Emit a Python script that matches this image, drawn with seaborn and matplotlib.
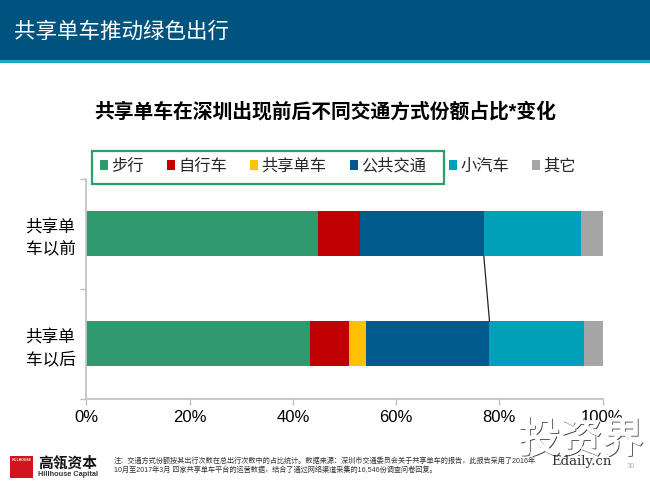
import numpy as np
import matplotlib
matplotlib.use("Agg")
import matplotlib.pyplot as plt
import matplotlib.patches as mpatches
import matplotlib.patheffects as pe
import seaborn as sns

categories = ["共享单\n车以前", "共享单\n车以后"]
modes = ["步行", "自行车", "共享单车", "公共交通", "小汽车", "其它"]
walk = [44.9, 43.4]
bike = [8.1, 7.5]
shared = [0.0, 3.2]
transit = [24.0, 24.0]
car = [18.9, 18.4]
other = [4.1, 3.5]
colors = ["#2f9b6c", "#c00000", "#ffc000", "#005b8c", "#00a0b8", "#a6a6a6"]
xticks = [0, 20, 40, 60, 80, 100]

sns.set_theme(style="white")
FONT = ["Liberation Sans", "Noto Sans CJK SC"]
plt.rcParams["font.family"] = FONT

W, H = 650, 487
fig = plt.figure(figsize=(W / 100, H / 100), dpi=100, facecolor="white")


def fx(x):
    return x / W


def fy(y):
    return 1 - y / H


def rect(x0, y0, x1, y1, **kw):
    fig.add_artist(mpatches.Rectangle((fx(x0), fy(y1)), (x1 - x0) / W, (y1 - y0) / H,
                                      transform=fig.transFigure, **kw))


# header band
rect(0, 0, W, 60, facecolor="#00537f", edgecolor="none")
rect(0, 60, W, 63, facecolor="#1aa9c9", edgecolor="none")
fig.text(fx(14), fy(32), "共享单车推动绿色出行", color="white", fontsize=15.5, va="center", ha="left")
fig.text(fx(325), fy(112), "共享单车在深圳出现前后不同交通方式份额占比*变化", color="black",
         fontsize=14.25, fontweight="bold", va="center", ha="center")

# plot area
ax = fig.add_axes([fx(86.5), fy(399), (602.5 - 86.5) / W, (399 - 178.5) / H])
series = np.array([walk, bike, shared, transit, car, other])
cum = series.cumsum(axis=0)
# stacked bars: painted from the longest total down to the shortest
for i in range(len(modes) - 1, -1, -1):
    sns.barplot(x=cum[i], y=categories, color=colors[i], width=0.41, saturation=1,
                orient="h", ax=ax, label=modes[i], linewidth=0)

ax.set_xlim(0, 100)
ax.set_ylim(1.5, -0.5)
ax.set_xlabel("")
ax.set_ylabel("")
ax.set_xticks(xticks)
ax.set_xticklabels([f"{v}%" for v in xticks], fontsize=12, color="black")
ax.set_yticks([0, 1])
ax.set_yticklabels(categories, fontsize=12, color="black", linespacing=1.5)
ax.set_yticks([-0.5, 0.5, 1.5], minor=True)
ax.tick_params(axis="y", which="major", length=0, pad=8)
ax.tick_params(axis="y", which="minor", length=4, width=1, color="#bfbfbf", left=True)
ax.tick_params(axis="x", which="major", length=4, width=1, color="#bfbfbf", bottom=True, pad=4)
for s in ["top", "right"]:
    ax.spines[s].set_visible(False)
for s in ["left", "bottom"]:
    ax.spines[s].set_color("#c4c4c4")
    ax.spines[s].set_linewidth(1.3)

# series connector
ax.plot([cum[3][0], cum[3][1]], [0.205, 0.795], color="#222222", lw=0.9, zorder=5)

# legend
handles, labels = ax.get_legend_handles_labels()
if ax.get_legend() is not None:
    ax.get_legend().remove()
leg = fig.legend(handles[::-1], labels[::-1], ncol=6, frameon=False, fontsize=11.7,
                 loc="center left", bbox_to_anchor=(fx(100), fy(166)), borderaxespad=0, borderpad=0,
                 columnspacing=1.42, handletextpad=0.2, handlelength=0.5, handleheight=0.5)
rect(92, 151.5, 444, 184.5, facecolor="none", edgecolor="#27a067", linewidth=1.6)

# footer
rect(10, 456, 33, 478, facecolor="#d2141e", edgecolor="none")
fig.text(fx(21.5), fy(460), "HILLHOUSE", color="white", fontsize=2.4, ha="center", va="center", fontweight="bold")
fig.text(fx(38), fy(464), "高瓴资本", color="#111111", fontsize=10.6, fontweight="bold", ha="left", va="center")
fig.text(fx(38), fy(475), "Hillhouse Capital", color="#333333", fontsize=5.3, fontweight="bold", ha="left", va="center")
fig.text(fx(114), fy(461.5), "注：交通方式份额按其出行次数在总出行次数中的占比统计。数据来源：深圳市交通委员会关于共享单车的报告，此报告采用了2016年",
         color="#333333", fontsize=5.15, ha="left", va="center")
fig.text(fx(114), fy(470), "10月至2017年3月 四家共享单车平台的运营数据，结合了通过网络渠道采集的16,546份调查问卷回复。",
         color="#333333", fontsize=5.15, ha="left", va="center")
fig.text(fx(631), fy(467), "30", color="#b0b0b0", fontsize=5.5, ha="center", va="center")

# watermark: white glyphs with a thin dark offset edge
for dx, dy, c, z in [(0.8, 0.8, "#444444", 20), (0, 0, "white", 21)]:
    t = fig.text(fx(581 + dx), fy(441 + dy), "投资界", color=c, fontsize=30, ha="center", va="center", zorder=z)
    t.set_path_effects([pe.withStroke(linewidth=1.0, foreground=c)])
fig.text(fx(581), fy(462), "Edaily.cn", color="#333333", fontsize=9.5, ha="center", va="center",
         family="DejaVu Serif", zorder=22)

fig.savefig("out.png", dpi=100, facecolor="white")
